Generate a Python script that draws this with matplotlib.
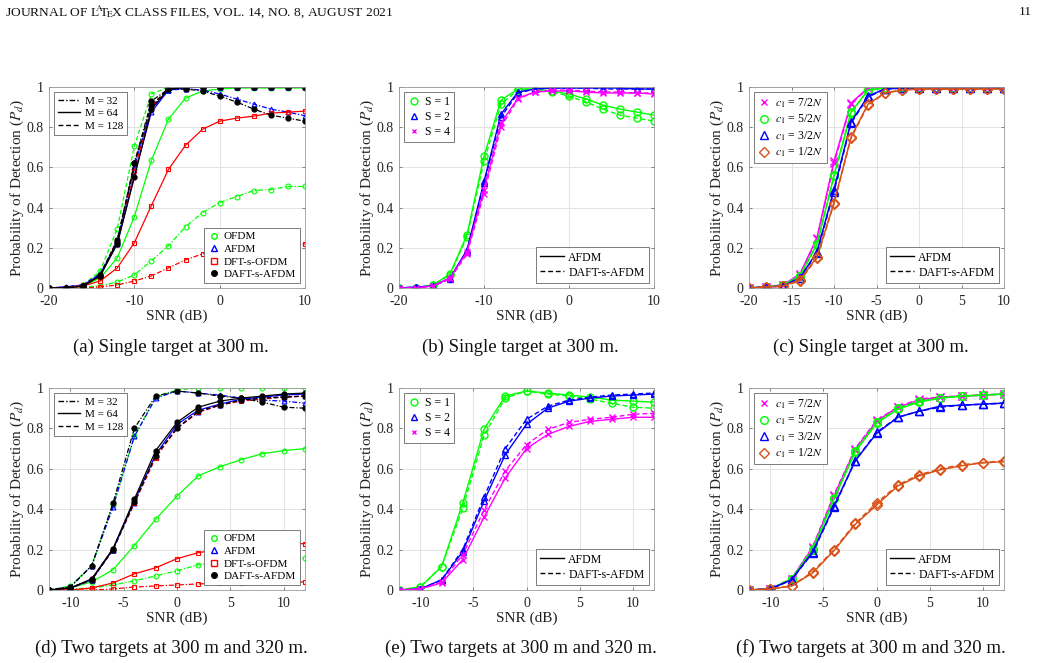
import matplotlib
matplotlib.use("Agg")
import matplotlib.pyplot as plt
from matplotlib.lines import Line2D
import numpy as np

plt.rcParams['font.family'] = ['Liberation Serif', 'DejaVu Serif']
plt.rcParams['mathtext.fontset'] = 'stix'
plt.rcParams['axes.unicode_minus'] = False

# ---------------- data ----------------
snr_a = [-20, -18, -16, -14, -12, -10, -8, -6, -4, -2, 0, 2, 4, 6, 8, 10]
snr_d = [-12, -10, -8, -6, -4, -2, 0, 2, 4, 6, 8, 10, 12]

# (a) single target, M comparison
a_ofdm_m32 = [0, 0, 0.005, 0.01, 0.03, 0.065, 0.135, 0.21, 0.305, 0.375, 0.425, 0.455, 0.485, 0.49, 0.505, 0.505]
a_ofdm_m64 = [0, 0, 0.01, 0.05, 0.15, 0.355, 0.635, 0.84, 0.945, 0.98, 0.99, 0.995, 0.995, 0.995, 0.995, 0.995]
a_ofdm_m128 = [0, 0, 0.015, 0.085, 0.295, 0.705, 0.965, 1, 1, 1, 1, 1, 1, 1, 1, 1]
a_afdm_m32 = [0, 0.005, 0.015, 0.07, 0.23, 0.6, 0.9, 0.985, 0.99, 0.985, 0.965, 0.94, 0.915, 0.89, 0.875, 0.857]
a_afdm_m64 = [0, 0.005, 0.015, 0.065, 0.22, 0.56, 0.875, 0.985, 0.995, 1, 1, 1, 1, 1, 1, 1]
a_afdm_m128 = [0, 0.005, 0.015, 0.07, 0.235, 0.6, 0.89, 0.985, 1, 1, 1, 1, 1, 1, 1, 1]
a_dft_m32 = [0, 0, 0, 0.005, 0.015, 0.035, 0.06, 0.1, 0.14, 0.17, 0.18, 0.19, 0.2, 0.205, 0.21, 0.22]
a_dft_m64 = [0, 0, 0.01, 0.035, 0.1, 0.225, 0.41, 0.59, 0.71, 0.79, 0.83, 0.845, 0.855, 0.87, 0.875, 0.88]
a_dft_m128 = [0, 0, 0.015, 0.06, 0.24, 0.58, 0.9, 0.99, 1, 1, 1, 1, 1, 1, 1, 1]
a_daft_m32 = [0, 0, 0.01, 0.06, 0.23, 0.62, 0.93, 0.99, 0.99, 0.98, 0.955, 0.925, 0.89, 0.86, 0.845, 0.83]
a_daft_m64 = [0, 0, 0.01, 0.06, 0.22, 0.55, 0.89, 0.99, 1, 1, 1, 1, 1, 1, 1, 1]
a_daft_m128 = [0, 0, 0.01, 0.065, 0.24, 0.62, 0.91, 0.99, 1, 1, 1, 1, 1, 1, 1, 1]

# (b) single target, S comparison
b_s1_afdm = [0, 0, 0.015, 0.07, 0.265, 0.655, 0.935, 0.99, 0.99, 0.98, 0.965, 0.94, 0.91, 0.89, 0.875, 0.86]
b_s1_daft = [0, 0, 0.015, 0.065, 0.255, 0.63, 0.915, 0.985, 0.99, 0.975, 0.955, 0.925, 0.89, 0.86, 0.845, 0.83]
b_s2_afdm = [0, 0.005, 0.01, 0.05, 0.19, 0.53, 0.865, 0.975, 0.99, 0.995, 0.995, 0.995, 0.995, 0.995, 0.99, 0.99]
b_s2_daft = [0, 0.005, 0.01, 0.045, 0.18, 0.52, 0.85, 0.97, 0.99, 0.995, 0.995, 0.995, 0.99, 0.99, 0.99, 0.99]
b_s4_afdm = [0, 0, 0.01, 0.05, 0.18, 0.49, 0.82, 0.945, 0.975, 0.98, 0.98, 0.975, 0.97, 0.97, 0.97, 0.965]
b_s4_daft = [0, 0, 0.01, 0.045, 0.17, 0.47, 0.8, 0.94, 0.975, 0.985, 0.985, 0.98, 0.975, 0.975, 0.97, 0.97]

# (c) single target, c1 comparison
c_c7_afdm = [0, 0.005, 0.015, 0.07, 0.25, 0.63, 0.92, 0.995, 1, 1, 0.995, 0.995, 0.995, 0.995, 0.995, 0.995]
c_c7_daft = [0, 0.005, 0.015, 0.065, 0.245, 0.62, 0.915, 0.995, 1, 1, 0.995, 0.995, 0.995, 0.995, 0.995, 0.995]
c_c5_afdm = [0, 0.005, 0.015, 0.06, 0.22, 0.56, 0.875, 0.985, 0.995, 0.995, 0.995, 0.995, 0.995, 0.995, 0.995, 0.995]
c_c5_daft = [0, 0.005, 0.015, 0.06, 0.215, 0.555, 0.87, 0.985, 0.995, 0.995, 0.995, 0.995, 0.995, 0.995, 0.995, 0.995]
c_c3_afdm = [0, 0.005, 0.01, 0.05, 0.18, 0.49, 0.825, 0.955, 0.99, 0.995, 0.995, 0.995, 0.995, 0.995, 0.995, 0.995]
c_c3_daft = [0, 0.005, 0.01, 0.05, 0.175, 0.48, 0.82, 0.95, 0.99, 0.995, 0.995, 0.995, 0.995, 0.995, 0.995, 0.995]
c_c1_afdm = [0, 0.005, 0.01, 0.04, 0.155, 0.425, 0.75, 0.915, 0.97, 0.985, 0.99, 0.99, 0.99, 0.99, 0.99, 0.99]
c_c1_daft = [0, 0.005, 0.01, 0.035, 0.15, 0.42, 0.745, 0.91, 0.97, 0.985, 0.99, 0.99, 0.99, 0.99, 0.99, 0.99]

# (d) two targets, M comparison
d_ofdm_m32 = [0, 0.005, 0.01, 0.025, 0.045, 0.07, 0.095, 0.125, 0.135, 0.145, 0.15, 0.155, 0.16]
d_ofdm_m64 = [0, 0.01, 0.04, 0.1, 0.22, 0.35, 0.465, 0.565, 0.61, 0.645, 0.675, 0.69, 0.7]
d_ofdm_m128 = [0, 0.02, 0.12, 0.42, 0.76, 0.955, 0.99, 1, 1, 1, 1, 1, 1]
d_afdm_m32 = [0, 0.015, 0.12, 0.41, 0.76, 0.95, 0.985, 0.975, 0.965, 0.95, 0.94, 0.935, 0.925]
d_afdm_m64 = [0, 0.01, 0.05, 0.2, 0.44, 0.67, 0.82, 0.89, 0.92, 0.945, 0.955, 0.965, 0.97]
d_afdm_m128 = [0, 0.01, 0.05, 0.2, 0.43, 0.66, 0.805, 0.88, 0.915, 0.94, 0.95, 0.955, 0.96]
d_dft_m32 = [0, 0, 0, 0.005, 0.015, 0.02, 0.025, 0.03, 0.035, 0.035, 0.04, 0.04, 0.04]
d_dft_m64 = [0, 0, 0.01, 0.035, 0.08, 0.11, 0.155, 0.185, 0.2, 0.21, 0.22, 0.225, 0.23]
d_dft_m128 = [0, 0.01, 0.05, 0.205, 0.43, 0.655, 0.8, 0.88, 0.915, 0.935, 0.945, 0.955, 0.96]
d_daft_m32 = [0, 0.015, 0.12, 0.43, 0.8, 0.96, 0.985, 0.975, 0.96, 0.95, 0.93, 0.905, 0.9]
d_daft_m64 = [0, 0.01, 0.055, 0.205, 0.45, 0.69, 0.83, 0.905, 0.935, 0.95, 0.96, 0.97, 0.975]
d_daft_m128 = [0, 0.01, 0.05, 0.2, 0.435, 0.665, 0.8, 0.885, 0.915, 0.94, 0.95, 0.955, 0.96]

# (e) two targets, S comparison
e_s1_afdm = [0, 0.015, 0.115, 0.43, 0.795, 0.96, 0.985, 0.975, 0.965, 0.955, 0.94, 0.935, 0.93]
e_s1_daft = [0, 0.015, 0.115, 0.405, 0.765, 0.95, 0.985, 0.97, 0.96, 0.945, 0.925, 0.905, 0.9]
e_s2_afdm = [0, 0.005, 0.05, 0.19, 0.44, 0.67, 0.82, 0.9, 0.935, 0.95, 0.96, 0.965, 0.97]
e_s2_daft = [0, 0.005, 0.05, 0.2, 0.46, 0.7, 0.845, 0.91, 0.94, 0.955, 0.965, 0.97, 0.975]
e_s4_afdm = [0, 0.005, 0.035, 0.15, 0.36, 0.555, 0.7, 0.77, 0.81, 0.835, 0.845, 0.855, 0.855]
e_s4_daft = [0, 0.005, 0.04, 0.175, 0.395, 0.59, 0.72, 0.795, 0.83, 0.845, 0.855, 0.87, 0.875]

# (f) two targets, c1 comparison
f_c7_afdm = [0, 0.005, 0.055, 0.21, 0.465, 0.695, 0.835, 0.905, 0.94, 0.955, 0.96, 0.965, 0.97]
f_c7_daft = [0, 0.005, 0.055, 0.215, 0.47, 0.7, 0.84, 0.905, 0.945, 0.955, 0.96, 0.965, 0.97]
f_c5_afdm = [0, 0.005, 0.055, 0.2, 0.45, 0.685, 0.825, 0.895, 0.93, 0.95, 0.96, 0.965, 0.97]
f_c5_daft = [0, 0.005, 0.055, 0.205, 0.455, 0.69, 0.83, 0.9, 0.935, 0.95, 0.96, 0.965, 0.97]
f_c3_afdm = [0, 0.005, 0.05, 0.19, 0.415, 0.64, 0.775, 0.855, 0.885, 0.91, 0.915, 0.92, 0.925]
f_c3_daft = [0, 0.005, 0.05, 0.185, 0.41, 0.64, 0.78, 0.855, 0.885, 0.905, 0.915, 0.92, 0.925]
f_c1_afdm = [0, 0.005, 0.02, 0.085, 0.195, 0.325, 0.42, 0.515, 0.565, 0.595, 0.615, 0.63, 0.635]
f_c1_daft = [0, 0.005, 0.02, 0.09, 0.2, 0.33, 0.43, 0.52, 0.57, 0.6, 0.62, 0.63, 0.64]

captions = ["(a) Single target at 300 m.", "(b) Single target at 300 m.", "(c) Single target at 300 m.",
            "(d) Two targets at 300 m and 320 m.", "(e) Two targets at 300 m and 320 m.",
            "(f) Two targets at 300 m and 320 m."]
scheme_labels = ["OFDM", "AFDM", "DFT-s-OFDM", "DAFT-s-AFDM"]
m_labels = ["M = 32", "M = 64", "M = 128"]
s_labels = ["S = 1", "S = 2", "S = 4"]
c_labels = [r"$c_1$ = 7/2$N$", r"$c_1$ = 5/2$N$", r"$c_1$ = 3/2$N$", r"$c_1$ = 1/2$N$"]
wave_labels = ["AFDM", "DAFT-s-AFDM"]

# ---------------- style ----------------
GREEN = '#00FF00'
BLUE = '#0000FF'
RED = '#FF0000'
BLACK = '#000000'
MAG = '#FF00FF'
ORANGE = '#D95319'
DASHDOT = (0, (4, 1.5, 1, 1.5))
DASHED = (0, (3.5, 2))
W, H = 1040, 663

fig = plt.figure(figsize=(W / 100, H / 100), dpi=100)

def make_ax(x0, x1, y0, y1):
    return fig.add_axes([x0 / W, 1 - y1 / H, (x1 - x0) / W, (y1 - y0) / H])

def style_ax(ax, xlim, xticks):
    ax.set_xlim(*xlim)
    ax.set_ylim(0, 1)
    ax.set_xticks(xticks)
    ax.set_yticks([0, 0.2, 0.4, 0.6, 0.8, 1])
    ax.set_yticklabels(["0", "0.2", "0.4", "0.6", "0.8", "1"])
    ax.grid(True, color='#e3e3e3', linewidth=0.7)
    ax.set_axisbelow(True)
    for s in ax.spines.values():
        s.set_color('#9a9a9a')
        s.set_linewidth(0.6)
    ax.tick_params(direction='in', length=2.5, width=0.5, color='#555555',
                   labelsize=10, labelcolor='#222222', top=True, right=True)
    ax.tick_params(axis='x', pad=5)
    ax.tick_params(axis='y', pad=4)
    ax.set_xlabel("SNR (dB)", fontsize=11, color='#222222', labelpad=1)
    ax.set_ylabel(r"Probability of Detection ($P_d$)", fontsize=11, color='#222222', labelpad=0)

def leg(ax, handles, labels, loc, fs=8, **kw):
    l = ax.legend(handles, labels, loc=loc, fontsize=fs, frameon=True, fancybox=False,
                  framealpha=1, edgecolor='#666666', borderpad=0.35, labelspacing=0.25,
                  handletextpad=0.4, borderaxespad=0.45, **kw)
    l.get_frame().set_linewidth(0.6)
    return l

rows_x = [(49, 305), (399, 654), (749, 1004)]
rows_y = [(87, 288), (388, 590)]

# ---------- (a) and (d) ----------
def panel_M(ax, x, data, lw=0.9, ms=3.5):
    sch = [(GREEN, 'o', 'none'), (BLUE, '^', 'none'), (RED, 's', 'none'), (BLACK, 'o', 'full')]
    styles = [DASHDOT, '-', DASHED]
    for (col, mk, fill), series in zip(sch, data):
        for ls, y in zip(styles, series):
            if fill == 'full':
                ax.plot(x, y, color=col, linestyle=ls, linewidth=lw, marker=mk, markersize=ms,
                        markerfacecolor=col, markeredgecolor=col)
            else:
                ax.plot(x, y, color=col, linestyle=ls, linewidth=lw, marker=mk, markersize=ms,
                        markerfacecolor='none', markeredgecolor=col, markeredgewidth=0.8)
    h1 = [Line2D([], [], color='k', linestyle=ls, linewidth=1.0) for ls in styles]
    l1 = leg(ax, h1, m_labels, 'upper left', fs=8, handlelength=2.0)
    ax.add_artist(l1)
    h2 = []
    for col, mk, fill in sch:
        h2.append(Line2D([], [], color=col, linestyle='none', marker=mk, markersize=ms + 0.5,
                         markerfacecolor=(col if fill == 'full' else 'none'), markeredgecolor=col))
    leg(ax, h2, scheme_labels, 'lower right', fs=8, handlelength=1.0)

axA = make_ax(*rows_x[0], *rows_y[0])
style_ax(axA, (-20, 10), [-20, -10, 0, 10])
panel_M(axA, snr_a, [[a_ofdm_m32, a_ofdm_m64, a_ofdm_m128],
                     [a_afdm_m32, a_afdm_m64, a_afdm_m128],
                     [a_dft_m32, a_dft_m64, a_dft_m128],
                     [a_daft_m32, a_daft_m64, a_daft_m128]])

axD = make_ax(*rows_x[0], *rows_y[1])
style_ax(axD, (-12, 12), [-10, -5, 0, 5, 10])
panel_M(axD, snr_d, [[d_ofdm_m32, d_ofdm_m64, d_ofdm_m128],
                     [d_afdm_m32, d_afdm_m64, d_afdm_m128],
                     [d_dft_m32, d_dft_m64, d_dft_m128],
                     [d_daft_m32, d_daft_m64, d_daft_m128]])

# ---------- (b),(c),(e),(f) ----------
def panel_pairs(ax, x, specs, labels, lw, ms):
    hs = []
    for (col, mk), (ya, yd) in specs:
        kw = dict(color=col, linewidth=lw, marker=mk, markersize=ms,
                  markerfacecolor='none', markeredgecolor=col, markeredgewidth=1.0)
        ax.plot(x, ya, linestyle='-', **kw)
        ax.plot(x, yd, linestyle=DASHED, **kw)
        hs.append(Line2D([], [], color=col, linestyle='none', marker=mk, markersize=ms if mk != 'x' else ms * 0.7,
                         markerfacecolor='none', markeredgecolor=col, markeredgewidth=1.0))
    l1 = leg(ax, hs, labels, 'upper left', fs=8.5, handlelength=1.0)
    ax.add_artist(l1)
    h2 = [Line2D([], [], color='k', linestyle='-', linewidth=1.0),
          Line2D([], [], color='k', linestyle=DASHED, linewidth=1.0)]
    leg(ax, h2, wave_labels, 'lower right', fs=8.5, handlelength=2.0)

axB = make_ax(*rows_x[1], *rows_y[0])
style_ax(axB, (-20, 10), [-20, -10, 0, 10])
panel_pairs(axB, snr_a, [((GREEN, 'o'), (b_s1_afdm, b_s1_daft)),
                         ((BLUE, '^'), (b_s2_afdm, b_s2_daft)),
                         ((MAG, 'x'), (b_s4_afdm, b_s4_daft))], s_labels, 1.0, 5)

axC = make_ax(*rows_x[2], *rows_y[0])
style_ax(axC, (-20, 10), [-20, -15, -10, -5, 0, 5, 10])
panel_pairs(axC, snr_a, [((MAG, 'x'), (c_c7_afdm, c_c7_daft)),
                         ((GREEN, 'o'), (c_c5_afdm, c_c5_daft)),
                         ((BLUE, '^'), (c_c3_afdm, c_c3_daft)),
                         ((ORANGE, 'D'), (c_c1_afdm, c_c1_daft))], c_labels, 1.1, 5.5)

axE = make_ax(*rows_x[1], *rows_y[1])
style_ax(axE, (-12, 12), [-10, -5, 0, 5, 10])
panel_pairs(axE, snr_d, [((GREEN, 'o'), (e_s1_afdm, e_s1_daft)),
                         ((BLUE, '^'), (e_s2_afdm, e_s2_daft)),
                         ((MAG, 'x'), (e_s4_afdm, e_s4_daft))], s_labels, 1.0, 5)

axF = make_ax(*rows_x[2], *rows_y[1])
style_ax(axF, (-12, 12), [-10, -5, 0, 5, 10])
panel_pairs(axF, snr_d, [((MAG, 'x'), (f_c7_afdm, f_c7_daft)),
                         ((GREEN, 'o'), (f_c5_afdm, f_c5_daft)),
                         ((BLUE, '^'), (f_c3_afdm, f_c3_daft)),
                         ((ORANGE, 'D'), (f_c1_afdm, f_c1_daft))], c_labels, 1.1, 5.5)

# captions
cap_y = [347, 648]
for i, cap in enumerate(captions):
    r, c = divmod(i, 3)
    xc = (rows_x[c][0] + rows_x[c][1]) / 2 - 6
    fig.text(xc / W, 1 - cap_y[r] / H, cap, ha='center', va='center', fontsize=13.5, color='#111111')

# header
fig.text(5 / W, 1 - 12 / H,
         r"JOURNAL OF L$\!\!^{\mathrm{A}}\!\!$T$\!_{\mathrm{E}}\!$X CLASS FILES, VOL. 14, NO. 8, AUGUST 2021",
         ha='left', va='center', fontsize=9.7, color='#111111')
fig.text(1032 / W, 1 - 12 / H, "11", ha='right', va='center', fontsize=9.7, color='#111111')

fig.savefig("out.png", dpi=100)
